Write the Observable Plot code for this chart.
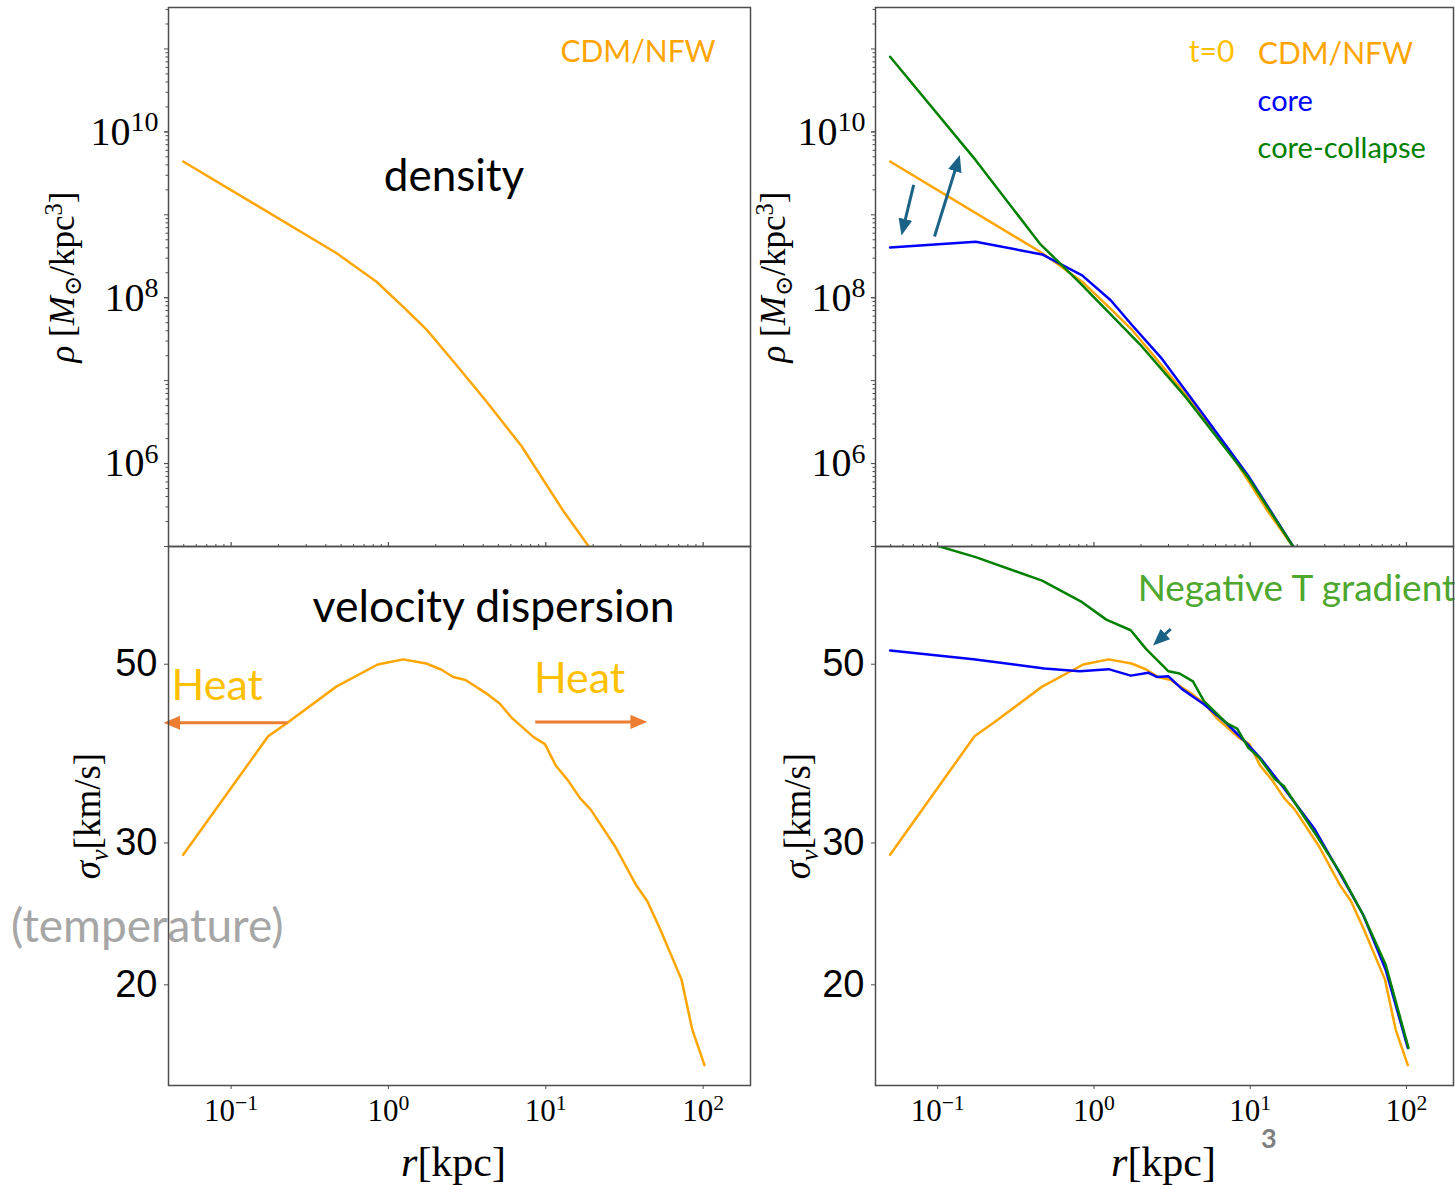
<!DOCTYPE html>
<html>
<head>
<meta charset="utf-8">
<script src="https://cdn.jsdelivr.net/npm/d3@7"></script>
<script src="https://cdn.jsdelivr.net/npm/@observablehq/plot@0.6"></script>
<style>
  html, body { margin: 0; padding: 0; background: #fff; }
  #fig { position: relative; width: 1455px; height: 1185px; overflow: hidden; background: #fff; }
  #fig svg { position: absolute; }
  #pagenum { position: absolute; left: 1261px; top: 1121px; font: 700 27px Lato, sans-serif; color: #7f7f7f; }
</style>
</head>
<body>
<div id="fig"><div id="pagenum">3</div></div>
<script>
// ---------------- data ----------------
// radius in kpc, density in Msun/kpc^3
const nfwDensityR   = [0.0496, 0.466, 0.84, 1.27, 1.74, 2.67, 4.11, 7.02, 12.9, 19.6];
const nfwDensityRho = [4.4e9, 3.46e8, 1.56e8, 7.45e7, 4.16e7, 1.59e7, 5.89e6, 1.62e6, 2.70e5, 8.9e4];

const coreDensityR   = [0.0496, 0.175, 0.466, 0.84, 1.28, 1.75, 2.72, 5.06, 9.71, 19.6];
const coreDensityRho = [4.04e8, 4.73e8, 3.33e8, 1.86e8, 9.33e7, 4.69e7, 1.84e7, 3.81e6, 7.14e5, 8.9e4];

const collapseDensityR   = [0.0496, 0.175, 0.45, 0.81, 2.02, 3.89, 9.71, 19.6];
const collapseDensityRho = [8.05e10, 4.56e9, 4.5e8, 1.52e8, 2.6e7, 6.24e6, 6.79e5, 8.9e4];

// velocity dispersion in km/s
const nfwSigmaR = [0.0496, 0.172, 0.228, 0.466, 0.854, 1.24, 1.74, 2.16, 2.58, 3.09, 4.26, 5.09, 6.08, 8.37, 9.88, 11.6, 13.8, 16.5, 19.3, 27.6, 37.5, 44.2, 53.6, 72.9, 85.3, 102];
const nfwSigma  = [29.0, 40.7, 42.3, 46.9, 49.96, 50.7, 50.1, 49.25, 48.2, 47.8, 45.9, 44.7, 42.9, 40.6, 39.8, 37.4, 35.9, 34.1, 33.0, 29.7, 26.6, 25.4, 23.4, 20.3, 17.6, 15.9];

const coreSigmaR = [0.0496, 0.1695, 0.482, 0.811, 1.24, 1.72, 2.23, 2.54, 3.0, 3.65, 5.06, 7.0, 9.71, 11.8, 16.4, 25.9, 37.1, 53.0, 73.5, 102];
const coreSigma  = [52.0, 50.7, 49.4, 49.0, 49.3, 48.4, 48.8, 48.2, 48.3, 46.6, 44.6, 42.3, 39.7, 38.1, 35.1, 31.2, 27.6, 24.4, 20.9, 16.7];

const collapseSigmaR = [0.0496, 0.175, 0.466, 0.84, 1.2, 1.72, 2.16, 3.0, 3.53, 4.30, 5.06, 7.0, 8.25, 9.71, 11.4, 14.4, 16.4, 26.7, 38.3, 53.0, 73.5, 103];
const collapseSigma  = [73.0, 67.9, 63.5, 59.7, 56.8, 55.1, 52.2, 49.0, 48.7, 47.6, 45.0, 42.3, 41.6, 39.4, 38.3, 36.0, 35.3, 30.6, 27.4, 24.4, 21.2, 16.7];

// axes
const rDomain = [0.04, 200];
const rhoDomain = [1e5, Math.pow(10, 11.5)];
const sigmaDomain = [15, 70];
const rTicks = [0.1, 1, 10, 100];
const rTickLabels = ["10^{\u22121}", "10^{0}", "10^{1}", "10^{2}"];
const rhoTicks = [1e6, 1e8, 1e10];
const rhoTickLabels = ["10^{6}", "10^{8}", "10^{10}"];
const sigmaTicks = [20, 30, 50];
const sigmaTickLabels = ["20", "30", "50"];

// text (* toggles italic, ^{..} superscript, _{..} subscript)
const rhoLabel = "*\u03C1* [*M*_{\u2299}/kpc^{3}]";
const sigmaLabel = "*\u03C3_{v}*[km/s]";
const rLabel = "*r*[kpc]";

// ---------------- helpers ----------------
const rows = (rs, ys, key) => rs.map((r, i) => ({r, [key]: ys[i]}));
const NS = "http://www.w3.org/2000/svg";
const SERIF = "'Liberation Serif', 'DejaVu Serif', serif";
const SANS = "Lato, 'Open Sans', sans-serif";
const FRAME = "#4d4d4d";
const ORANGE = "#ffa500", BLUE = "#0000ff", GREEN = "#008000";
const TEAL = "#1b6386", HEATARROW = "#ed7d31", HEATTEXT = "#ffc000";

const rMinor = [];
for (let k = -2; k <= 2; k++) for (let m = 2; m <= 9; m++) {
  const v = m * Math.pow(10, k);
  if (v > rDomain[0] && v < rDomain[1]) rMinor.push(v);
}
const rhoMinor = [], rhoDecades = [];
for (let k = 5; k <= 11; k++) {
  rhoDecades.push(Math.pow(10, k));
  for (let m = 2; m <= 9; m++) {
    const v = m * Math.pow(10, k);
    if (v < rhoDomain[1]) rhoMinor.push(v);
  }
}

function headMarker(color, context) {
  const doc = (context && context.document) || document;
  const m = doc.createElementNS(NS, "marker");
  m.setAttribute("viewBox", "-6 -5 12 10");
  m.setAttribute("markerWidth", "5.6");
  m.setAttribute("markerHeight", "4.8");
  m.setAttribute("refX", "3");
  m.setAttribute("orient", "auto");
  m.setAttribute("fill", color);
  m.setAttribute("stroke", "none");
  const p = doc.createElementNS(NS, "path");
  p.setAttribute("d", "M-6,-5L6,0L-6,5Z");
  m.appendChild(p);
  return m;
}

// turn the small markup into tspans (italic, superscript, subscript)
function richify(svg) {
  svg.querySelectorAll("text").forEach(t => {
    const s = t.textContent;
    if (!/[\^_*]/.test(s)) return;
    const F = parseFloat(getComputedStyle(t).fontSize) || 16;
    t.textContent = "";
    let italic = false, shift = 0, buf = "", i = 0;
    const add = (str, kind) => {
      const ts = document.createElementNS(NS, "tspan");
      ts.textContent = str;
      if (italic) ts.setAttribute("font-style", "italic");
      let target = 0;
      if (kind === "sup") { ts.setAttribute("font-size", (0.7 * F) + "px"); target = -0.34 * F; }
      if (kind === "sub") { ts.setAttribute("font-size", (0.7 * F) + "px"); target = 0.2 * F; }
      if (target !== shift) { ts.setAttribute("dy", (target - shift) + "px"); shift = target; }
      t.appendChild(ts);
    };
    const flush = () => { if (buf) { add(buf, null); buf = ""; } };
    while (i < s.length) {
      const c = s[i];
      if (c === "*") { flush(); italic = !italic; i++; }
      else if ((c === "^" || c === "_") && s[i + 1] === "{") {
        flush();
        const j = s.indexOf("}", i);
        add(s.slice(i + 2, j), c === "^" ? "sup" : "sub");
        i = j + 1;
      } else { buf += c; i++; }
    }
    flush();
  });
}

function place(svg, left, top) {
  svg.style.left = left + "px";
  svg.style.top = top + "px";
  document.getElementById("fig").appendChild(svg);
  richify(svg);
}

const lineOpts = (y, color) => ({x: "r", y, stroke: color, strokeWidth: 2.5, clip: true});
const note = (txt, x, y, o) => Plot.text([txt], {x: [x], y: [y], text: d => d, fontFamily: SANS, ...o});
const arrow = (x1, y1, x2, y2, color) => Plot.link([0], {x1: [x1], y1: [y1], x2: [x2], y2: [y2], stroke: color, strokeWidth: 3, markerEnd: headMarker});

function densityPanel(width, ml, mr, lines, notes, ylabelDx) {
  const mt = 7, mb = 14, height = 560, fh = height - mt - mb;
  return Plot.plot({
    width, height, marginLeft: ml, marginRight: mr, marginTop: mt, marginBottom: mb,
    style: {background: "transparent", overflow: "visible", color: "#000"},
    x: {type: "log", domain: rDomain, label: null, axis: null},
    y: {type: "log", domain: rhoDomain, label: null},
    marks: [
      Plot.tickX(rMinor, {x: d => d, insetTop: fh - 2, stroke: FRAME, strokeWidth: 1}),
      Plot.tickX(rTicks, {x: d => d, insetTop: fh - 4, stroke: FRAME, strokeWidth: 1.2}),
      Plot.axisY(rhoMinor, {tickSize: 2.5, tickFormat: () => "", label: null, stroke: FRAME}),
      Plot.axisY(rhoDecades, {tickSize: 4, tickFormat: () => "", label: null, stroke: FRAME}),
      Plot.axisY(rhoTicks, {tickSize: 4, tickPadding: 6, tickFormat: d => rhoTickLabels[rhoTicks.indexOf(d)],
        fontSize: 40, fontFamily: SERIF, label: null, stroke: FRAME}),
      ...lines,
      ...notes,
      Plot.text([rhoLabel], {frameAnchor: "left", dx: ylabelDx, rotate: -90, textAnchor: "middle", lineAnchor: "middle",
        text: d => d, fontSize: 35, fontFamily: SERIF}),
      Plot.frame({stroke: FRAME, strokeWidth: 1.5})
    ]
  });
}

function sigmaPanel(width, ml, mr, lines, notes, ylabelDx, xlabelDx) {
  const mt = 16, mb = 100, height = 655;
  return Plot.plot({
    width, height, marginLeft: ml, marginRight: mr, marginTop: mt, marginBottom: mb,
    style: {background: "transparent", overflow: "visible", color: "#000"},
    x: {type: "log", domain: rDomain, label: null},
    y: {type: "log", domain: sigmaDomain, label: null},
    marks: [
      Plot.axisY(sigmaTicks, {tickSize: 4, tickPadding: 7, tickFormat: d => sigmaTickLabels[sigmaTicks.indexOf(d)],
        fontSize: 38, fontFamily: "'Liberation Sans', Arial, sans-serif", label: null, stroke: FRAME}),
      Plot.axisX(rTicks, {tickSize: 4, tickPadding: 9, tickFormat: d => rTickLabels[rTicks.indexOf(d)],
        fontSize: 31, fontFamily: SERIF, label: null, stroke: FRAME}),
      ...lines,
      ...notes,
      Plot.text([sigmaLabel], {frameAnchor: "left", dx: ylabelDx, rotate: -90, textAnchor: "middle", lineAnchor: "middle",
        text: d => d, fontSize: 37, fontFamily: SERIF}),
      Plot.text([rLabel], {frameAnchor: "bottom", dx: xlabelDx, dy: 77, textAnchor: "middle", lineAnchor: "middle",
        text: d => d, fontSize: 42, fontFamily: SERIF}),
      Plot.frame({stroke: FRAME, strokeWidth: 1.5})
    ]
  });
}

// ---------------- panels ----------------
const nfwD = rows(nfwDensityR, nfwDensityRho, "rho");
const coreD = rows(coreDensityR, coreDensityRho, "rho");
const collD = rows(collapseDensityR, collapseDensityRho, "rho");
const nfwS = rows(nfwSigmaR, nfwSigma, "sigma");
const coreS = rows(coreSigmaR, coreSigma, "sigma");
const collS = rows(collapseSigmaR, collapseSigma, "sigma");

const A = densityPanel(760, 168, 10,
  [Plot.line(nfwD, lineOpts("rho", ORANGE))],
  [
    note("CDM/NFW", 38.6, 9.0e10, {fill: ORANGE, fontSize: 30}),
    note("density", 2.61, 2.85e9, {fill: "#000", fontSize: 44})
  ], -106);

const B = densityPanel(695, 115, 2,
  [
    Plot.line(nfwD, lineOpts("rho", ORANGE)),
    Plot.line(coreD, lineOpts("rho", BLUE)),
    Plot.line(collD, lineOpts("rho", GREEN))
  ],
  [
    arrow(0.0702, 2.30e9, 0.0595, 6.3e8, TEAL),
    arrow(0.0954, 5.47e8, 0.136, 4.7e9, TEAL),
    note("t=0", 4.05, 9.2e10, {fill: HEATTEXT, fontSize: 30, textAnchor: "start"}),
    note("CDM/NFW", 11.2, 8.7e10, {fill: ORANGE, fontSize: 30, textAnchor: "start"}),
    note("core", 11.15, 2.3e10, {fill: BLUE, fontSize: 29, textAnchor: "start"}),
    note("core-collapse", 11.15, 6.3e9, {fill: GREEN, fontSize: 29, textAnchor: "start"})
  ], -102);

const C = sigmaPanel(760, 168, 10,
  [Plot.line(nfwS, lineOpts("sigma", ORANGE))],
  [
    note("velocity dispersion", 4.66, 58.7, {fill: "#000", fontSize: 44.5}),
    note("Heat", 0.0816, 47.0, {fill: HEATTEXT, fontSize: 43}),
    note("Heat", 16.4, 47.96, {fill: HEATTEXT, fontSize: 43}),
    note("(temperature)", 0.0293, 23.6, {fill: "#a6a6a6", fontSize: 46}),
    arrow(0.228, 42.3, 0.0395, 42.3, HEATARROW),
    arrow(8.57, 42.4, 41.5, 42.4, HEATARROW)
  ], -80, -6);

const D = sigmaPanel(695, 115, 2,
  [
    Plot.line(nfwS, lineOpts("sigma", ORANGE)),
    Plot.line(coreS, lineOpts("sigma", BLUE)),
    Plot.line(collS, lineOpts("sigma", GREEN))
  ],
  [
    note("Negative T gradient", 1.904, 62.0, {fill: "#4ea72e", fontSize: 37, textAnchor: "start"}),
    arrow(3.1, 55.3, 2.5, 53.2, TEAL)
  ], -77, -1);

place(A, 0, 0);
place(B, 760, 0);
place(C, 0, 530);
place(D, 760, 530);
</script>
</body>
</html>
